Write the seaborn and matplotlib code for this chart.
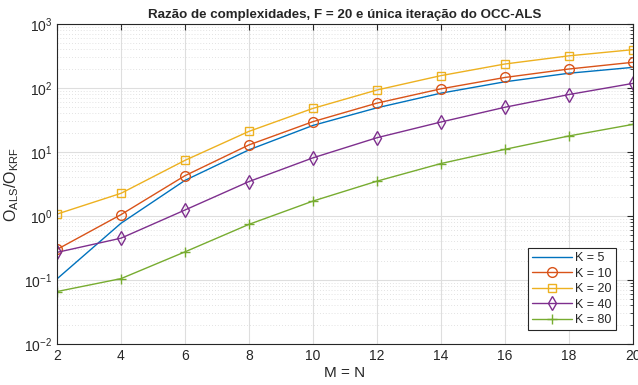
import numpy as np
import pandas as pd
import matplotlib
matplotlib.use("Agg")
import matplotlib.pyplot as plt
import seaborn as sns
from matplotlib.ticker import LogLocator, FixedLocator

mn = [2, 4, 6, 8, 10, 12, 14, 16, 18, 20]
k5 = [0.104, 0.77, 3.6, 10.8, 26, 49, 83, 125, 170, 210]
k10 = [0.30, 1.05, 4.26, 12.9, 29.8, 58, 97, 146, 198, 252]
k20 = [1.07, 2.26, 7.4, 21, 48, 93, 156, 237, 318, 397]
k40 = [0.27, 0.45, 1.24, 3.45, 8.1, 16.7, 29.4, 50, 79, 118]
k80 = [0.066, 0.105, 0.275, 0.74, 1.71, 3.5, 6.6, 11, 17.8, 27]
labels = ["K = 5", "K = 10", "K = 20", "K = 40", "K = 80"]
series = [k5, k10, k20, k40, k80]

sns.set_style("white")
plt.rcParams["font.family"] = ["Liberation Sans", "DejaVu Sans"]
plt.rcParams["mathtext.fontset"] = "custom"
plt.rcParams["mathtext.rm"] = "Liberation Sans"
plt.rcParams["mathtext.it"] = "Liberation Sans:italic"
plt.rcParams["mathtext.bf"] = "Liberation Sans:bold"

colors = ["#0072BD", "#D95319", "#EDB120", "#7E2F8E", "#77AC30"]
markers = [None, "o", "s", "d", "+"]
msizes = [0, 7, 6, 7.5, 7]

fig = plt.figure(figsize=(6.38, 3.85), dpi=100)
ax = fig.add_axes([0.0893, 0.1065, 0.9027, 0.8312])

for lab, vals, c, m, ms in zip(labels, series, colors, markers, msizes):
    df = pd.DataFrame({"x": mn, "y": vals})
    kw = dict(marker=m, markersize=ms, markerfacecolor="none",
              markeredgecolor=c, markeredgewidth=1.0) if m else dict(marker=None)
    sns.lineplot(data=df, x="x", y="y", ax=ax, color=c, linewidth=1.0,
                 label=lab, **kw)

ax.set_yscale("log")
ax.set_ylim(1e-2, 1e3)
ax.set_xlim(2, 20)
ax.xaxis.set_major_locator(FixedLocator(mn))
ax.yaxis.set_major_locator(LogLocator(base=10, numticks=10))
ax.yaxis.set_minor_locator(LogLocator(base=10, subs=np.arange(2, 10), numticks=10))
ax.minorticks_on()
ax.xaxis.set_minor_locator(FixedLocator([]))

ax.grid(True, which="major", color="#dedede", linewidth=0.8, linestyle="-")
ax.grid(True, which="minor", axis="y", color="#d9d9d9", linewidth=0.6, linestyle=(0, (1, 2.5)))
ax.set_axisbelow(True)

for s in ax.spines.values():
    s.set_color("#262626")
    s.set_linewidth(0.8)
ax.tick_params(which="both", direction="in", top=True, right=True, colors="#262626",
               labelsize=10, labelcolor="#262626")
ax.tick_params(which="major", length=4)
ax.tick_params(which="minor", length=2)

ax.set_xlabel("M = N", fontsize=11, color="#262626", labelpad=2)
ax.set_ylabel(r"O$_{\mathrm{ALS}}$/O$_{\mathrm{KRF}}$", fontsize=11.5, color="#262626", labelpad=2)
ax.set_title("Razão de complexidades, F = 20 e única iteração do OCC-ALS",
             fontsize=9.6, fontweight="bold", pad=4)

leg = ax.legend(loc="lower right", bbox_to_anchor=(0.970, 0.044), fontsize=9,
                frameon=True, fancybox=False, edgecolor="#262626", framealpha=1,
                handlelength=3.2, borderpad=0.3, labelspacing=0.28, handletextpad=0.25,
                borderaxespad=0)
leg.get_frame().set_linewidth(0.8)

fig.savefig("out.png", dpi=100)
